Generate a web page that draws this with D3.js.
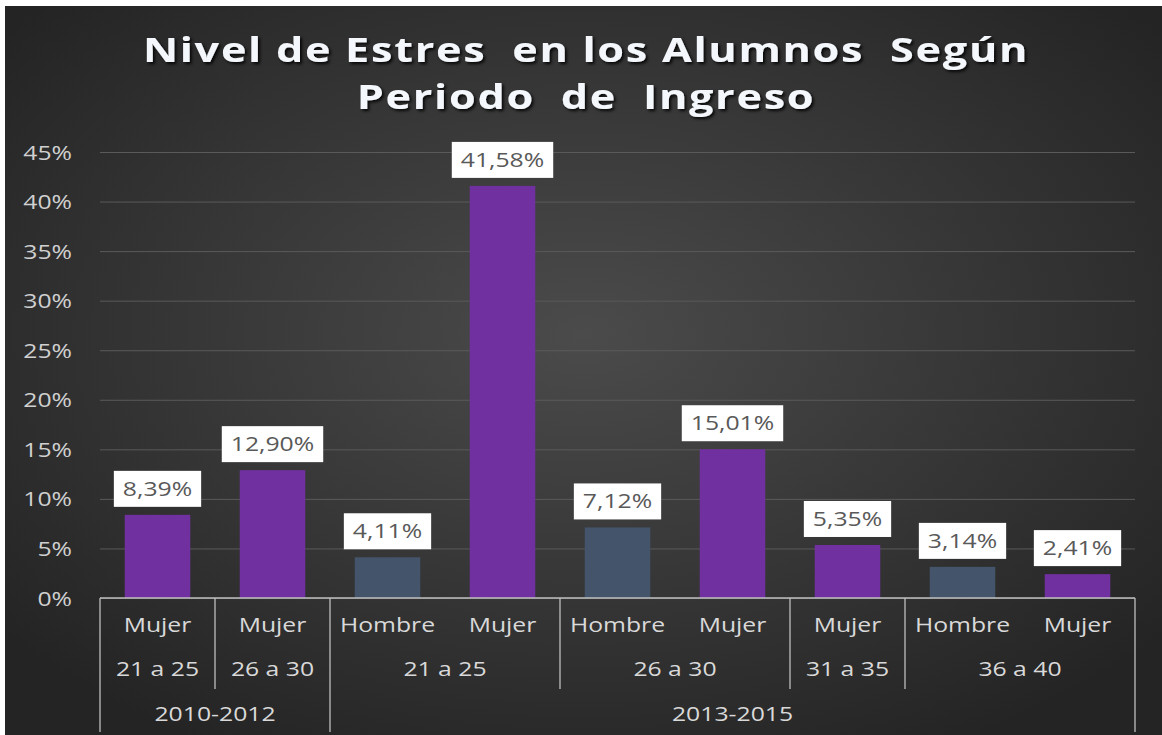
<!DOCTYPE html>
<html>
<head>
<meta charset="utf-8">
<script src="https://cdn.jsdelivr.net/npm/d3@7"></script>
<style>
  html, body { margin: 0; padding: 0; background: #ffffff; }
  svg { display: block; }
  text { white-space: pre; }
</style>
</head>
<body>
<div id="chart"></div>
<script>
// data
const genders = ["Mujer", "Mujer", "Hombre", "Mujer", "Hombre", "Mujer", "Mujer", "Hombre", "Mujer"];
const ages = ["21 a 25", "26 a 30", "21 a 25", "21 a 25", "26 a 30", "26 a 30", "31 a 35", "36 a 40", "36 a 40"];
const periods = ["2010-2012", "2010-2012", "2013-2015", "2013-2015", "2013-2015", "2013-2015", "2013-2015", "2013-2015", "2013-2015"];
const values = [0.0839, 0.1290, 0.0411, 0.4158, 0.0712, 0.1501, 0.0535, 0.0314, 0.0241];
const yTicks = [0, 0.05, 0.10, 0.15, 0.20, 0.25, 0.30, 0.35, 0.40, 0.45];
const titleLines = ["Nivel de Estres  en los Alumnos  Según", "Periodo  de  Ingreso"];

const width = 1162, height = 735;
const plot = { left: 100, right: 1135, top: 152, bottom: 598 };
const SX = 1.27; // the source picture is stretched sideways
const FONT = "'Open Sans', sans-serif";

const svg = d3.select("#chart").append("svg")
    .attr("width", width)
    .attr("height", height);

const defs = svg.append("defs");
const bg = defs.append("radialGradient")
    .attr("id", "bg-grad")
    .attr("cx", "50%").attr("cy", "45%").attr("r", "65%");
bg.append("stop").attr("offset", "0%").attr("stop-color", "#4b4b4b");
bg.append("stop").attr("offset", "100%").attr("stop-color", "#242424");

defs.append("filter")
    .attr("id", "title-shadow")
    .attr("x", "-10%").attr("y", "-30%").attr("width", "120%").attr("height", "160%")
    .append("feDropShadow")
    .attr("dx", 2).attr("dy", 2).attr("stdDeviation", 1.5)
    .attr("flood-color", "#000").attr("flood-opacity", 0.85);

svg.append("rect")
    .attr("x", 5).attr("y", 6)
    .attr("width", width - 5).attr("height", height - 6)
    .attr("fill", "url(#bg-grad)");

// helper: text stretched on x like the original
function wideText(parent, x, y, str, anchor) {
    const g = parent.append("g").attr("transform", `translate(${x},${y}) scale(${SX},1)`);
    return g.append("text").attr("text-anchor", anchor || "middle").text(str);
}

const y = d3.scaleLinear().domain([0, 0.45]).range([plot.bottom, plot.top]);
const idx = d3.range(values.length);
const xSlot = d3.scaleBand().domain(idx).range([plot.left, plot.right]);
const x = d3.scaleBand().domain(idx).range([plot.left, plot.right])
    .paddingInner(0.43).paddingOuter(0.215);

// gridlines
svg.append("g")
    .attr("transform", `translate(${plot.left},0)`)
    .call(d3.axisLeft(y).tickValues(yTicks).tickSize(-(plot.right - plot.left)).tickFormat(""))
    .call(g => g.select(".domain").remove())
    .call(g => g.selectAll("line").attr("stroke", "#5a5a5a").attr("stroke-width", 1));

// y tick labels
svg.append("g")
    .attr("transform", `translate(${plot.left},0)`)
    .call(d3.axisLeft(y).tickValues(yTicks).tickSize(0).tickFormat(d3.format(".0%")))
    .call(g => g.select(".domain").remove())
    .call(g => g.selectAll("text")
        .attr("x", -28 / SX)
        .attr("dy", "0.36em")
        .attr("transform", `scale(${SX},1)`)
        .attr("fill", "#d0d0d0")
        .attr("font-family", FONT)
        .attr("font-size", 19.5));

// bars
svg.append("g").selectAll("rect")
    .data(idx)
    .join("rect")
    .attr("x", i => x(i))
    .attr("width", x.bandwidth())
    .attr("y", i => y(values[i]))
    .attr("height", i => y(0) - y(values[i]))
    .attr("fill", i => genders[i] === "Mujer" ? "#7030A0" : "#44546A");

// data labels in white boxes
const fmt = v => (v * 100).toFixed(2).replace(".", ",") + "%";
const labels = svg.append("g").attr("font-family", FONT).attr("font-size", 19.5);
idx.forEach(i => {
    const cx = x(i) + x.bandwidth() / 2;
    const boxBottom = y(values[i]) - 8;
    const box = labels.append("rect").attr("fill", "#ffffff");
    const t = wideText(labels, cx, boxBottom - 11, fmt(values[i])).attr("fill", "#595959");
    const w = t.node().getComputedTextLength() * SX + 18;
    box.attr("x", cx - w / 2).attr("y", boxBottom - 36).attr("width", w).attr("height", 36);
});

// multi-level category axis
const axis = svg.append("g").attr("stroke", "#bfbfbf").attr("stroke-width", 1.3);
axis.append("line")
    .attr("x1", plot.left).attr("x2", plot.right)
    .attr("y1", plot.bottom).attr("y2", plot.bottom);

d3.range(values.length + 1).forEach(b => {
    const bx = b < values.length ? xSlot(b) : plot.right;
    let end = null;
    if (b === 0 || b === values.length || periods[b] !== periods[b - 1]) end = 732;
    else if (ages[b] !== ages[b - 1]) end = 689;
    if (end) axis.append("line").attr("x1", bx).attr("x2", bx).attr("y1", plot.bottom).attr("y2", end);
});

const catText = svg.append("g")
    .attr("font-family", FONT).attr("font-size", 19.5).attr("fill", "#d9d9d9");

idx.forEach(i => {
    wideText(catText, xSlot(i) + xSlot.bandwidth() / 2, 632, genders[i]);
});

function groupsOf(keyFn) {
    const out = [];
    idx.forEach(i => {
        const k = keyFn(i);
        if (out.length && out[out.length - 1].key === k) out[out.length - 1].end = i;
        else out.push({ key: k, start: i, end: i });
    });
    return out;
}
groupsOf(i => periods[i] + "|" + ages[i]).forEach(gr => {
    const cx = (xSlot(gr.start) + xSlot(gr.end) + xSlot.bandwidth()) / 2;
    wideText(catText, cx, 676, ages[gr.start]);
});
groupsOf(i => periods[i]).forEach(gr => {
    const cx = (xSlot(gr.start) + xSlot(gr.end) + xSlot.bandwidth()) / 2;
    wideText(catText, cx, 721, periods[gr.start]);
});

// title
const title = svg.append("g")
    .attr("font-family", FONT).attr("font-weight", 700).attr("font-size", 34)
    .attr("letter-spacing", 1.35).attr("fill", "#f4f7fb")
    .attr("filter", "url(#title-shadow)");
titleLines.forEach((line, k) => {
    wideText(title, 586, 62 + k * 47, line);
});
</script>
</body>
</html>
